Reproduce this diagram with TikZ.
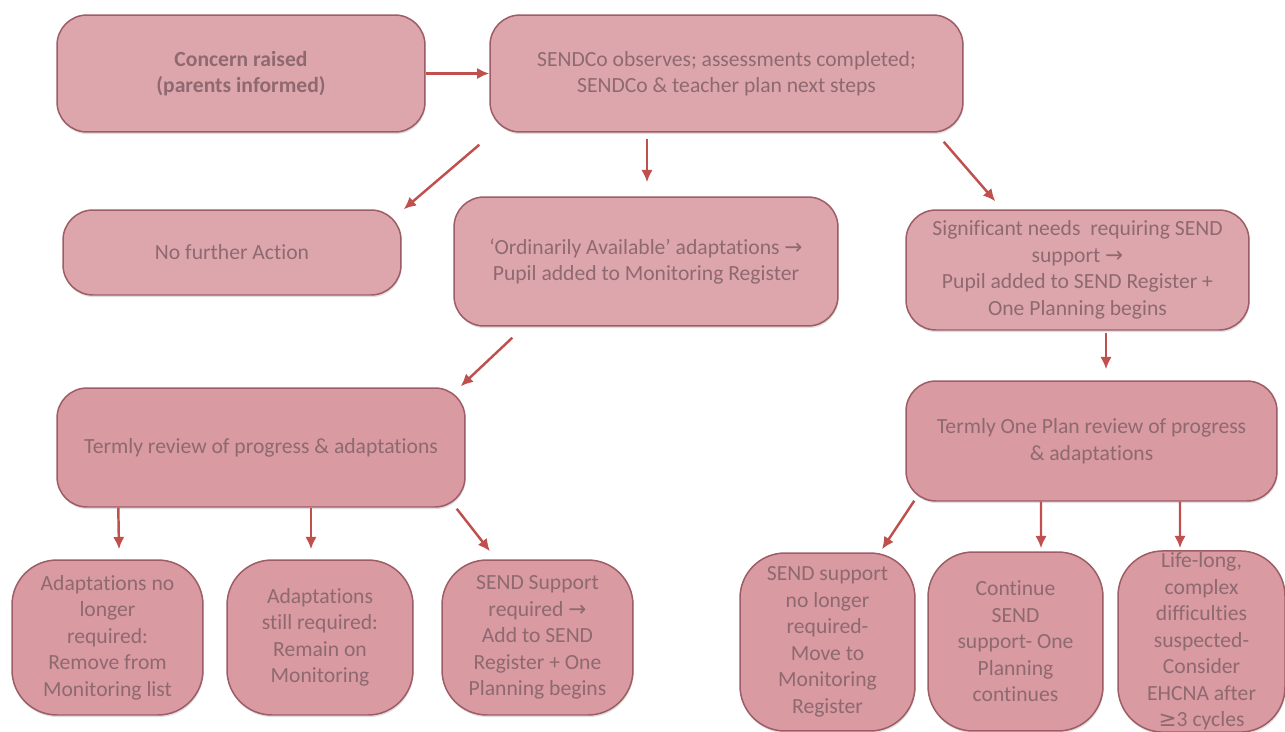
\documentclass[tikz,border=0pt]{standalone}
\usepackage{fontspec}
\setmainfont{Carlito}[Ligatures={NoCommon}]
\newfontfamily\symfont{DejaVu Sans}
\usetikzlibrary{arrows.meta,calc,shadows}

\definecolor{boxfill}{HTML}{DDA6AD}
\definecolor{boxfilldark}{HTML}{D99AA2}
\definecolor{boxline}{HTML}{9E5C65}
\definecolor{boxtext}{HTML}{8E6A70}
\definecolor{arrowred}{HTML}{C0504D}

\tikzset{
  box/.style={draw=boxline,line width=0.85pt,fill=boxfill,rounded corners=0.6cm,
    align=center,text=boxtext,inner sep=1pt,
    font=\fontsize{12.3}{15.1}\selectfont,
    drop shadow={opacity=0.25,shadow xshift=0.4pt,shadow yshift=-1.2pt}},
  darkbox/.style={box,fill=boxfilldark},
  tallbox/.style={darkbox,rounded corners=0.9cm},
  arr/.style={draw=arrowred,line width=1.4pt,-{Latex[length=7pt,width=6.5pt]}}
}

\begin{document}
\begin{tikzpicture}[x=0.02cm,y=-0.02cm]
\useasboundingbox (0,0) rectangle (1285,731);

% top row
\node[box,minimum width=7.36cm,minimum height=2.34cm] (concern) at (241,73.5)
  {\textbf{Concern raised}\\\textbf{(parents informed)}};
\node[box,minimum width=9.46cm,minimum height=2.34cm] (sendco) at (726.5,73.5)
  {SENDCo observes; assessments completed;\\SENDCo \& teacher plan next steps};

% second row
\node[box,minimum width=6.76cm,minimum height=1.70cm] (nfa) at (232,252.5)
  {No further Action};
\node[box,minimum width=7.68cm,minimum height=2.58cm] (ordin) at (646,261.5)
  {‘Ordinarily Available’ adaptations {\symfont →}\\Pupil added to Monitoring Register};
\node[box,minimum width=6.86cm,minimum height=2.40cm] (signif) at (1077.5,270)
  {Significant needs\ \ requiring SEND\\support {\symfont →}\\Pupil added to SEND Register +\\One Planning begins};

% reviews
\node[darkbox,minimum width=8.16cm,minimum height=2.38cm] (review) at (261,447.5)
  {Termly review of progress \& adaptations};
\node[darkbox,minimum width=7.42cm,minimum height=2.40cm] (onerev) at (1091.5,441)
  {Termly One Plan review of progress\\\& adaptations};

% outcomes
\node[tallbox,minimum width=3.82cm,minimum height=3.10cm] (adnolong) at (107.5,637.5)
  {Adaptations no\\longer\\required:\\Remove from\\Monitoring list};
\node[tallbox,minimum width=3.72cm,minimum height=3.10cm] (adstill) at (320,637.5)
  {Adaptations\\still required:\\Remain on\\Monitoring};
\node[tallbox,minimum width=3.82cm,minimum height=3.10cm] (sendreq) at (537.5,637.5)
  {SEND Support\\required {\symfont →}\\Add to SEND\\Register + One\\Planning begins};
\node[tallbox,minimum width=3.50cm,minimum height=3.56cm] (sendno) at (827.5,642)
  {SEND support\\no longer\\required-\\Move to\\Monitoring\\Register};
\node[tallbox,minimum width=3.50cm,minimum height=3.58cm] (contin) at (1015.5,641.5)
  {Continue\\SEND\\support- One\\Planning\\continues};
\node[tallbox,minimum width=3.34cm,minimum height=3.58cm] (lifelong) at (1201.5,641.5)
  {Life-long,\\complex\\difficulties\\suspected-\\Consider\\EHCNA after\\{\symfont ≥}3 cycles};

% arrows
\draw[arr] (concern.east) -- (sendco.west);
\draw[arr] ($(sendco.south west)+(-10,12)$) -- ($(nfa.north east)+(2,0)$);
\draw[arr] ($(sendco.south)+(-79.5,6)$) -- ($(ordin.north)+(1,-14)$);
\draw[arr] ($(sendco.south east)+(-20,9)$) -- ($(signif.north west)+(90,-8)$);
\draw[arr] ($(ordin.south west)+(59,11)$) -- ($(review.north east)+(-5,-1)$);
\draw[arr] ($(signif.south)+(28.5,2)$) -- ($(onerev.north)+(14.5,-11)$);

\draw[arr] ($(review.south west)+(62,0)$) -- ($(adnolong.north)+(11.5,-10)$);
\draw[arr] ($(review.south)+(50,0)$) -- ($(adstill.north)+(-9,-10)$);
\draw[arr] ($(review.south east)+(-9,1)$) -- ($(sendreq.north)+(-47.5,-8)$);

\draw[arr] ($(onerev.south west)+(9,-1)$) -- ($(sendno.north)+(54.5,-3)$);
\draw[arr] ($(onerev.south)+(-50.5,0)$) -- ($(contin.north)+(25.5,-3)$);
\draw[arr] ($(onerev.south)+(88.5,0)$) -- ($(lifelong.north)+(-21.5,-2)$);

\end{tikzpicture}
\end{document}
